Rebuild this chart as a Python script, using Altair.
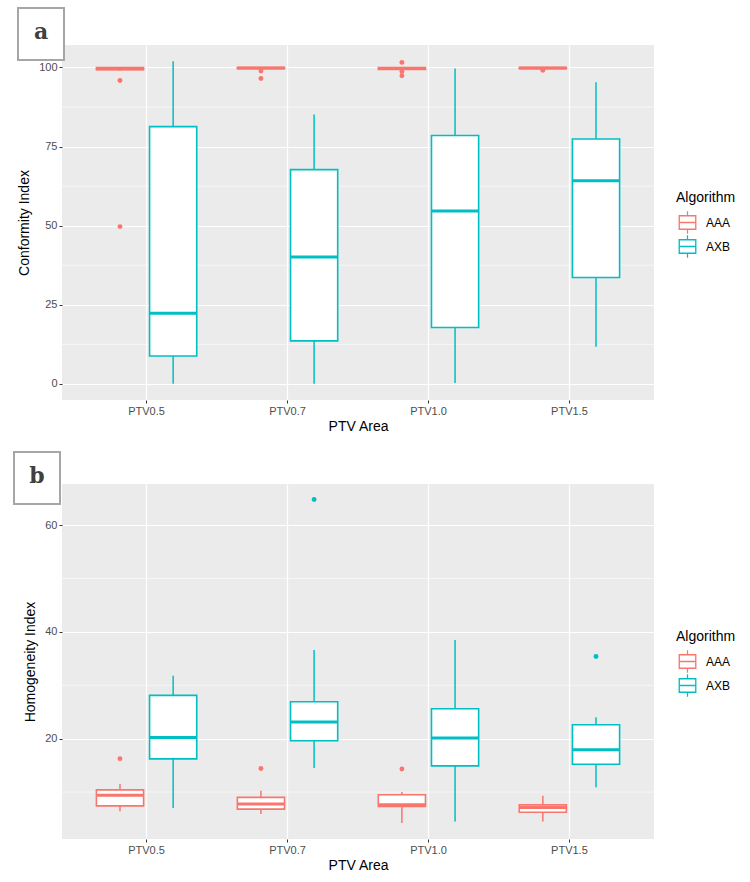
import altair as alt
import pandas as pd

AREAS = ["PTV0.5", "PTV0.7", "PTV1.0", "PTV1.5"]
ALGS = ["AAA", "AXB"]
COLORS = ["#F8766D", "#00BFC4"]

# Conformity index: whisker ends, quartiles and medians per PTV area
ci_aaa_low = [99.0, 99.5, 99.1, 99.4]
ci_aaa_q1 = [99.3, 99.6, 99.4, 99.6]
ci_aaa_med = [99.6, 99.8, 99.7, 99.8]
ci_aaa_q3 = [100.0, 100.0, 100.0, 100.0]
ci_aaa_high = [100.0, 100.0, 100.0, 100.0]
ci_axb_low = [0.0, 0.0, 0.3, 11.7]
ci_axb_q1 = [8.8, 13.6, 17.8, 33.6]
ci_axb_med = [22.3, 40.1, 54.6, 64.2]
ci_axb_q3 = [81.3, 67.7, 78.5, 77.4]
ci_axb_high = [102.0, 85.1, 99.7, 95.3]
ci_out_area = ["PTV0.5", "PTV0.5", "PTV0.7", "PTV0.7", "PTV1.0", "PTV1.0", "PTV1.0", "PTV1.5"]
ci_out_alg = ["AAA", "AAA", "AAA", "AAA", "AAA", "AAA", "AAA", "AAA"]
ci_out_value = [95.9, 49.7, 98.9, 96.5, 101.6, 98.7, 97.4, 99.1]

# Homogeneity index
hi_aaa_low = [6.4, 5.9, 4.2, 4.5]
hi_aaa_q1 = [7.4, 6.8, 7.3, 6.2]
hi_aaa_med = [9.4, 7.75, 7.6, 7.1]
hi_aaa_q3 = [10.4, 9.0, 9.5, 7.6]
hi_aaa_high = [11.5, 10.25, 10.0, 9.3]
hi_axb_low = [7.0, 14.5, 4.5, 10.9]
hi_axb_q1 = [16.2, 19.6, 14.9, 15.2]
hi_axb_med = [20.2, 23.1, 20.1, 17.9]
hi_axb_q3 = [28.1, 26.9, 25.6, 22.6]
hi_axb_high = [31.8, 36.6, 38.5, 24.0]
hi_out_area = ["PTV0.5", "PTV0.7", "PTV0.7", "PTV1.0", "PTV1.5"]
hi_out_alg = ["AAA", "AAA", "AXB", "AAA", "AXB"]
hi_out_value = [16.25, 14.4, 64.8, 14.3, 35.4]

CI_TICKS = [0, 25, 50, 75, 100]
CI_MINOR = [12.5, 37.5, 62.5, 87.5]
HI_TICKS = [20, 40, 60]
HI_MINOR = [10, 30, 50]

FONT = "Liberation Sans"
# Legend key: a box outline (outer ring with a hole), median bar and whisker stubs
BOX_SYMBOL = ("M-0.8,-0.66H0.8V0.66H-0.8Z "
              "M-0.68,-0.54V0.54H0.68V-0.54Z "
              "M-0.68,-0.06H0.68V0.06H-0.68Z "
              "M-0.055,-1H0.055V-0.66H-0.055Z "
              "M-0.055,0.66H0.055V1H-0.055Z")


def summary_frame(aaa, axb):
    rows = []
    for alg, stats in (("AAA", aaa), ("AXB", axb)):
        low, q1, med, q3, high = stats
        for i, area in enumerate(AREAS):
            rows.append({"area": area, "alg": alg, "low": low[i], "q1": q1[i],
                         "med": med[i], "q3": q3[i], "high": high[i]})
    return pd.DataFrame(rows)


def panel(stats, outliers, minor, ticks, domain, y_title, letter, box_xy):
    x = alt.X("area:N", sort=AREAS,
              scale=alt.Scale(paddingInner=0, paddingOuter=0.1),
              axis=alt.Axis(title="PTV Area", labelAngle=0, bandPosition=0.5,
                            grid=True, titlePadding=3))
    xo = alt.XOffset("alg:N", sort=ALGS,
                     scale=alt.Scale(paddingInner=0.113, paddingOuter=0.382))
    yscale = alt.Scale(domain=domain, nice=False, zero=False)
    alg_scale = alt.Scale(domain=ALGS, range=COLORS)
    stroke = alt.Stroke("alg:N", sort=ALGS, scale=alg_scale,
                        legend=alt.Legend(title="Algorithm", orient="none",
                                          legendX=614, legendY=146,
                                          symbolType=BOX_SYMBOL, symbolSize=500,
                                          symbolStrokeWidth=0,
                                          titleFontSize=14, titleFontWeight="normal",
                                          titleColor="black", titlePadding=6,
                                          labelFontSize=12, labelColor="black",
                                          labelFont=FONT, titleFont=FONT,
                                          labelOffset=7, rowPadding=1))

    minor_grid = alt.Chart(pd.DataFrame({"v": minor})).mark_rule(
        color="white", strokeWidth=0.6).encode(
        y=alt.Y("v:Q", scale=yscale))

    base = alt.Chart(stats)
    whisker = base.mark_rule(strokeWidth=1.5).encode(
        x=x, xOffset=xo,
        y=alt.Y("low:Q", scale=yscale,
                axis=alt.Axis(title=y_title, values=ticks, titlePadding=7)),
        y2="high:Q", stroke=stroke)
    box = base.mark_bar(fill="white", strokeWidth=1.6).encode(
        x=x, xOffset=xo, y=alt.Y("q1:Q", scale=yscale), y2="q3:Q", stroke=stroke)
    median = base.mark_bar(fill="white", strokeWidth=3).encode(
        x=x, xOffset=xo, y=alt.Y("med:Q", scale=yscale), y2="med:Q", stroke=stroke)
    points = alt.Chart(outliers).mark_circle(size=24, opacity=1).encode(
        x=x, xOffset=xo, y=alt.Y("value:Q", scale=yscale),
        fill=alt.Fill("alg:N", sort=ALGS, scale=alg_scale, legend=None))

    x0, x1, y0, y1 = box_xy
    tag = pd.DataFrame({"label": [letter]})
    tag_box = alt.Chart(tag).mark_rect(
        fill="white", stroke="#A6A6A6", strokeWidth=2).encode(
        x=alt.value(x0), x2=alt.value(x1), y=alt.value(y0), y2=alt.value(y1))
    tag_text = alt.Chart(tag).mark_text(
        font="DejaVu Serif", fontWeight="bold", fontSize=22, color="#404040",
        baseline="middle", align="center").encode(
        x=alt.value((x0 + x1) / 2), y=alt.value((y0 + y1) / 2 - 2), text="label:N")

    return alt.layer(minor_grid, whisker, box, median, points,
                     tag_box, tag_text).properties(width=592, height=355)


ci_stats = summary_frame(
    (ci_aaa_low, ci_aaa_q1, ci_aaa_med, ci_aaa_q3, ci_aaa_high),
    (ci_axb_low, ci_axb_q1, ci_axb_med, ci_axb_q3, ci_axb_high))
ci_out = pd.DataFrame({"area": ci_out_area, "alg": ci_out_alg, "value": ci_out_value})
hi_stats = summary_frame(
    (hi_aaa_low, hi_aaa_q1, hi_aaa_med, hi_aaa_q3, hi_aaa_high),
    (hi_axb_low, hi_axb_q1, hi_axb_med, hi_axb_q3, hi_axb_high))
hi_out = pd.DataFrame({"area": hi_out_area, "alg": hi_out_alg, "value": hi_out_value})

top = panel(ci_stats, ci_out, CI_MINOR, CI_TICKS, [-5.1, 107.1],
            "Conformity Index", "a", (-44, 2, -37, 15))
bottom = panel(hi_stats, hi_out, HI_MINOR, HI_TICKS, [1.2, 67.7],
               "Homogeneity Index", "b", (-48, -2, -32, 20))

chart = alt.vconcat(top, bottom, spacing=18).resolve_scale(
    stroke="independent", fill="independent", y="independent").properties(
    background="white",
    padding={"left": 13, "top": 7, "right": 5, "bottom": 5}).configure_view(
    fill="#EBEBEB", stroke=None).configure_axis(
    domain=False, tickColor="#333333", tickSize=3, tickWidth=1,
    labelColor="#4D4D4D", labelFontSize=11, labelFont=FONT, labelPadding=2,
    titleFont=FONT, titleFontSize=14, titleFontWeight="normal", titleColor="black",
    gridColor="white", gridWidth=1.2)

chart.save("out.html", embed_options={"renderer": "svg", "actions": False})
